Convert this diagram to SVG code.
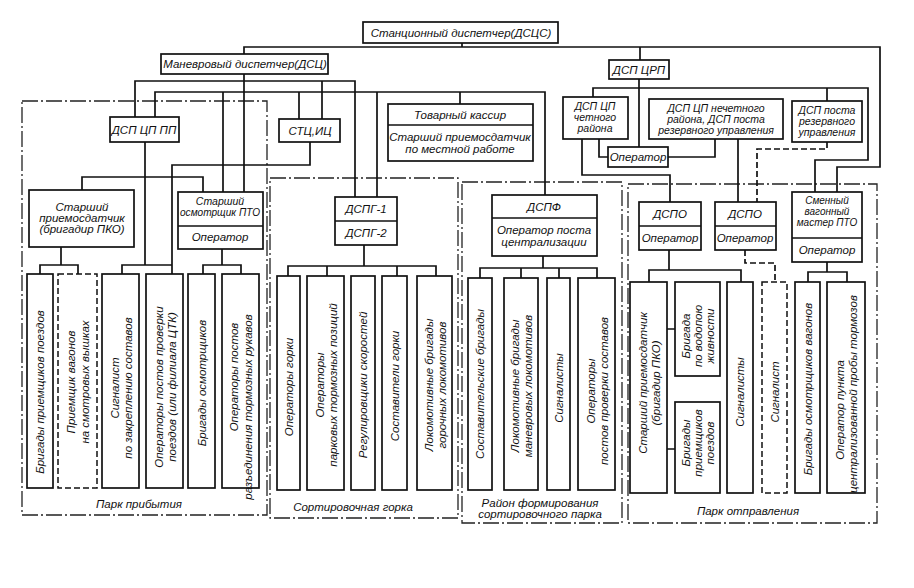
<svg xmlns="http://www.w3.org/2000/svg" width="914" height="588" viewBox="0 0 914 588">
<style>
text{font-family:"Liberation Sans","DejaVu Sans",sans-serif;font-style:italic;font-size:11.5px;fill:#111;text-anchor:middle}
.b{fill:#fff;stroke:#111;stroke-width:1.7}
.bd{fill:#fff;stroke:#111;stroke-width:1.5;stroke-dasharray:6 3}
.c{fill:none;stroke:#111;stroke-width:1.7}
.cd{fill:none;stroke:#111;stroke-width:1.7;stroke-dasharray:6 3}
.r{fill:none;stroke:#222;stroke-width:1.3;stroke-dasharray:16 3 2 3}
.s{font-size:10.5px}
.xs{font-size:10px}
</style>
<rect width="914" height="588" fill="#fff"/>
<g id="regions">
<rect class="r" x="22" y="101" width="245" height="414"/>
<rect class="r" x="270" y="178" width="188" height="340"/>
<rect class="r" x="462" y="182" width="160" height="341"/>
<rect class="r" x="628" y="184" width="249" height="339"/>
<text x="139" y="508">Парк прибытия</text>
<text x="353" y="511">Сортировочная горка</text>
<text x="540" y="507">Район формирования</text>
<text x="540" y="518">сортировочного парка</text>
<text x="748" y="515">Парк отправления</text>
</g>
<g id="connectors">
<path class="c" d="M462,43V47M244,54V47H880V167H837V192M640,47V60"/>
<path class="c" d="M244,74V192M135,117V81H355V197M322,81V119"/>
<path class="c" d="M155,117V92H545V195M223,92V192M299,92V119M377,92V197M460,92V104"/>
<path class="c" d="M310,142V165H172V274M145,142V265M82,190V177H203V192M122,274V265H172"/>
<path class="c" d="M61,247V265M40,274V265H78V274M222,249V265M203,274V265H241V274"/>
<path class="c" d="M364,245V266M288,276V266H436V276M327,266V276M397,266V276"/>
<path class="c" d="M543,256V268M480,278V268H597V278M521,268V278M559,268V278"/>
<path class="c" d="M639,79V147M593,97V88H868V160H815V192M827,88V101"/>
<path class="c" d="M582,139V175H670V202M599,139V157H608M668,157H715V139M738,139V202"/>
<path class="cd" d="M827,142V149H757V202M745,250V263H775V282"/>
<path class="c" d="M669,250V270M649,282V270H741V282M827,262V272M808,282V272H847V282M667,329H675M667,449H675"/>
</g>
<g id="n-dscs"><rect class="b" x="363" y="22" width="195" height="21"/><text x="461" y="37">Станционный диспетчер(ДСЦС)</text></g>
<g id="n-dsc"><rect class="b" x="161" y="54" width="167" height="20"/><text x="245" y="68">Маневровый диспетчер(ДСЦ)</text></g>
<g id="n-dspcrp"><rect class="b" x="609" y="60" width="60" height="19"/><text x="639" y="74">ДСП ЦРП</text></g>
<g id="n-dspcppp"><rect class="b" x="110" y="117" width="69" height="25"/><text x="144" y="134">ДСП ЦП ПП</text></g>
<g id="n-stc"><rect class="b" x="279" y="119" width="61" height="23"/><text x="310" y="135">СТЦ,ИЦ</text></g>
<g id="n-tov"><rect class="b" x="388" y="104" width="145" height="57"/><path class="c" d="M388,125H533"/><text x="460" y="119">Товарный кассир</text><text x="460" y="141">Старший приемосдатчик</text><text x="460" y="153">по местной работе</text></g>
<g id="n-chet"><rect class="b" x="563" y="97" width="65" height="42"/><text class="s" x="595" y="110">ДСП ЦП</text><text class="s" x="595" y="121">четного</text><text class="s" x="595" y="132">района</text></g>
<g id="n-nechet"><rect class="b" x="649" y="99" width="134" height="40"/><text class="s" x="716" y="112">ДСП ЦП нечетного</text><text class="s" x="716" y="123">района, ДСП поста</text><text class="s" x="716" y="134">резервного управления</text></g>
<g id="n-rez"><rect class="b" x="792" y="101" width="70" height="41"/><text class="s" x="827" y="114">ДСП поста</text><text class="s" x="827" y="125">резервного</text><text class="s" x="827" y="136">управления</text></g>
<g id="n-optop"><rect class="b" x="608" y="147" width="60" height="20"/><text x="638" y="161">Оператор</text></g>
<g id="n-spko"><rect class="b" x="29" y="190" width="105" height="57"/><text x="82" y="211">Старший</text><text x="82" y="222">приемосдатчик</text><text x="82" y="233">(бригадир ПКО)</text></g>
<g id="n-sopto"><rect class="b" x="178" y="192" width="85" height="57"/><path class="c" d="M178,226H263"/><text class="s" x="220" y="205">Старший</text><text class="s" x="220" y="216" textLength="80" lengthAdjust="spacingAndGlyphs">осмотрщик ПТО</text><text x="220" y="241">Оператор</text></g>
<g id="n-dspg"><rect class="b" x="335" y="197" width="62" height="48"/><path class="c" d="M335,221H397"/><text x="366" y="213">ДСПГ-1</text><text x="366" y="237">ДСПГ-2</text></g>
<g id="n-dspf"><rect class="b" x="492" y="195" width="105" height="61"/><path class="c" d="M492,218H597"/><text x="544" y="211">ДСПФ</text><text x="544" y="234">Оператор поста</text><text x="544" y="246">централизации</text></g>
<g id="n-dspo1"><rect class="b" x="639" y="202" width="62" height="48"/><path class="c" d="M639,226H701"/><text x="670" y="218">ДСПО</text><text x="670" y="242">Оператор</text></g>
<g id="n-dspo2"><rect class="b" x="715" y="202" width="61" height="48"/><path class="c" d="M715,226H776"/><text x="745" y="218">ДСПО</text><text x="745" y="242">Оператор</text></g>
<g id="n-smen"><rect class="b" x="792" y="192" width="70" height="70"/><path class="c" d="M792,238H862"/><text class="xs" x="827" y="204">Сменный</text><text class="xs" x="827" y="215">вагонный</text><text class="xs" x="827" y="226">мастер ПТО</text><text x="827" y="254">Оператор</text></g>
<g id="v1"><rect class="b" x="27" y="274" width="26" height="214"/><text transform="translate(40,392) rotate(-90)" y="4">Бригады приемщиков поездов</text></g>
<g id="v2"><rect class="bd" x="58" y="274" width="39" height="214"/><g transform="translate(77.5,382) rotate(-90)"><text y="-3">Приемщик вагонов</text><text y="11">на смотровых вышках</text></g></g>
<g id="v3"><rect class="b" x="102" y="274" width="37" height="214"/><g transform="translate(120.5,388) rotate(-90)"><text y="-2">Сигналист</text><text y="11">по закреплению составов</text></g></g>
<g id="v4"><rect class="b" x="146" y="274" width="37" height="214"/><g transform="translate(164.5,387) rotate(-90)"><text y="-2">Операторы постов проверки</text><text y="11">поездов (или филиала ЦТК)</text></g></g>
<g id="v5"><rect class="b" x="188" y="274" width="27" height="214"/><text transform="translate(201.5,383) rotate(-90)" y="4">Бригады осмотрщиков</text></g>
<g id="v6"><rect class="b" x="222" y="274" width="37" height="214"/><g transform="translate(240.5,392) rotate(-90)"><text x="15" y="-3">Операторы постов</text><text x="-15" y="11">разъединения тормозных рукавов</text></g></g>
<g id="v7"><rect class="b" x="277" y="276" width="23" height="214"/><text transform="translate(288.5,387) rotate(-90)" y="4">Операторы горки</text></g>
<g id="v8"><rect class="b" x="307" y="276" width="37" height="214"/><g transform="translate(325.5,385) rotate(-90)"><text y="-2">Операторы</text><text y="11">парковых тормозных позиций</text></g></g>
<g id="v9"><rect class="b" x="351" y="276" width="24" height="214"/><text transform="translate(363,385) rotate(-90)" y="4">Регулировщики скоростей</text></g>
<g id="v10"><rect class="b" x="382" y="276" width="25" height="214"/><text transform="translate(394.5,386) rotate(-90)" y="4">Составители горки</text></g>
<g id="v11"><rect class="b" x="417" y="276" width="35" height="214"/><g transform="translate(434.5,385) rotate(-90)"><text y="-2">Локомотивные бригады</text><text y="11">горочных локомотивов</text></g></g>
<g id="v12"><rect class="b" x="468" y="278" width="24" height="212"/><text transform="translate(480,384) rotate(-90)" y="4">Составительские бригады</text></g>
<g id="v13"><rect class="b" x="504" y="278" width="34" height="212"/><g transform="translate(521,386) rotate(-90)"><text y="-2">Локомотивные бригады</text><text y="11">маневровых локомотивов</text></g></g>
<g id="v14"><rect class="b" x="547" y="278" width="23" height="212"/><text transform="translate(558.5,388) rotate(-90)" y="4">Сигналисты</text></g>
<g id="v15"><rect class="b" x="578" y="278" width="37" height="212"/><g transform="translate(596.5,391) rotate(-90)"><text y="-2">Операторы</text><text y="11">постов проверки составов</text></g></g>
<g id="v16"><rect class="b" x="630" y="282" width="37" height="211"/><g transform="translate(648.5,383) rotate(-90)"><text y="-2">Старший приемосдатчик</text><text y="11">(бригадир ПКО)</text></g></g>
<g id="v17"><rect class="b" x="675" y="282" width="45" height="94"/><g transform="translate(697.5,336) rotate(-90)"><text y="-8">Бригада</text><text y="4">по водопою</text><text y="16">живности</text></g></g>
<g id="v18"><rect class="b" x="675" y="402" width="45" height="91"/><g transform="translate(697.5,443) rotate(-90)"><text y="-8">Бригады</text><text y="4">приемщиков</text><text y="16">поездов</text></g></g>
<g id="v19"><rect class="b" x="727" y="282" width="26" height="211"/><text transform="translate(740,392) rotate(-90)" y="4">Сигналисты</text></g>
<g id="v20"><rect class="bd" x="762" y="282" width="25" height="211"/><text transform="translate(774.5,392) rotate(-90)" y="4">Сигналист</text></g>
<g id="v21"><rect class="b" x="795" y="282" width="25" height="211"/><text transform="translate(807.5,389) rotate(-90)" y="4">Бригады осмотрщиков вагонов</text></g>
<g id="v22"><rect class="b" x="827" y="282" width="38" height="211"/><g transform="translate(846,390) rotate(-90)"><text x="-20" y="-2">Оператор пункта</text><text x="-4" y="11">централизованной пробы тормозов</text></g></g>
</svg>
